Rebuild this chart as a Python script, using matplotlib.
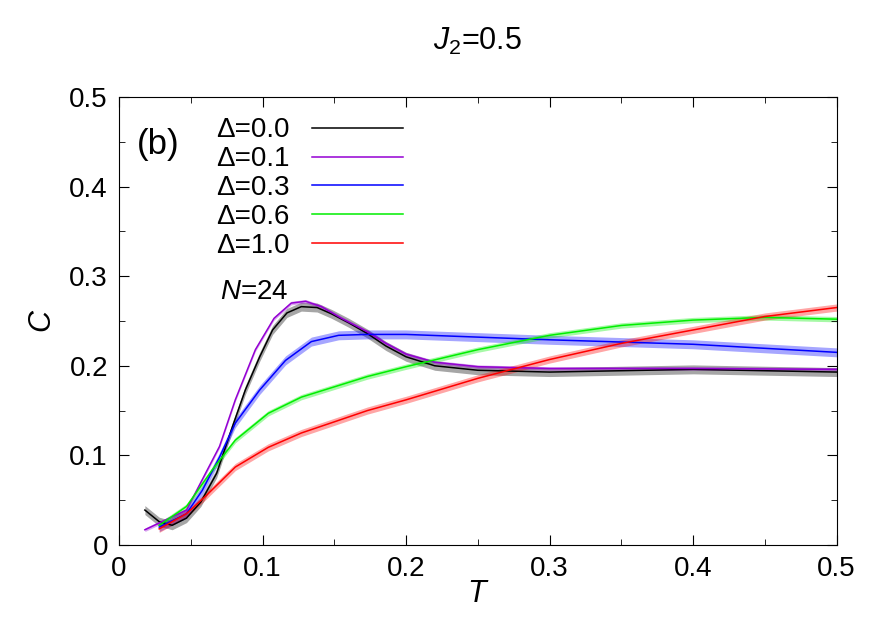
import numpy as np
import matplotlib.pyplot as plt

plt.rcParams['font.family'] = 'Liberation Sans'
plt.rcParams['mathtext.fontset'] = 'custom'
plt.rcParams['mathtext.it'] = 'Liberation Sans:italic'
plt.rcParams['mathtext.rm'] = 'Liberation Sans'

# data
t_d00 = [0.018, 0.028, 0.037, 0.047, 0.057, 0.068, 0.079, 0.088, 0.098, 0.107, 0.117, 0.127, 0.138, 0.148, 0.160, 0.173, 0.186, 0.2, 0.22, 0.25, 0.3, 0.4, 0.5]
c_d00 = [0.039, 0.026, 0.022, 0.030, 0.048, 0.080, 0.132, 0.173, 0.210, 0.240, 0.259, 0.266, 0.265, 0.258, 0.248, 0.236, 0.222, 0.210, 0.200, 0.195, 0.193, 0.196, 0.193]
t_d01 = [0.018, 0.047, 0.058, 0.070, 0.081, 0.095, 0.108, 0.120, 0.130, 0.141, 0.155, 0.173, 0.186, 0.2, 0.22, 0.25, 0.3, 0.4, 0.5]
c_d01 = [0.017, 0.039, 0.073, 0.110, 0.162, 0.218, 0.253, 0.270, 0.272, 0.266, 0.253, 0.238, 0.225, 0.213, 0.204, 0.199, 0.197, 0.197, 0.196]
t_d03 = [0.028, 0.047, 0.058, 0.070, 0.081, 0.098, 0.116, 0.134, 0.153, 0.173, 0.2, 0.3, 0.4, 0.5]
c_d03 = [0.020, 0.035, 0.061, 0.098, 0.136, 0.173, 0.206, 0.227, 0.234, 0.235, 0.235, 0.229, 0.224, 0.215]
t_d06 = [0.028, 0.047, 0.065, 0.081, 0.104, 0.127, 0.151, 0.173, 0.2, 0.25, 0.3, 0.35, 0.4, 0.45, 0.5]
c_d06 = [0.022, 0.043, 0.084, 0.117, 0.147, 0.165, 0.177, 0.188, 0.199, 0.218, 0.234, 0.245, 0.251, 0.254, 0.252]
t_d10 = [0.028, 0.047, 0.060, 0.081, 0.104, 0.127, 0.151, 0.173, 0.2, 0.25, 0.3, 0.35, 0.4, 0.45, 0.5]
c_d10 = [0.018, 0.035, 0.054, 0.087, 0.109, 0.125, 0.138, 0.150, 0.162, 0.186, 0.207, 0.225, 0.240, 0.255, 0.265]

labels = ['Δ=0.0', 'Δ=0.1', 'Δ=0.3', 'Δ=0.6', 'Δ=1.0']
colors = ['black', '#9400d3', '#0000ff', '#00ee00', '#ff0000']
series = [(t_d00, c_d00), (t_d01, c_d01), (t_d03, c_d03), (t_d06, c_d06), (t_d10, c_d10)]
err = [0.005, 0.002, 0.005, 0.003, 0.004]

fig = plt.figure(figsize=(8.91, 6.24), dpi=100)
ax = fig.add_axes([0.1336, 0.1266, 0.8054, 0.718])

for (t, c), col, lab, e in zip(series, colors, labels, err):
    t = np.array(t)
    c = np.array(c)
    ax.fill_between(t, c - e, c + e, color=col, alpha=0.35, lw=0)
    ax.plot(t, c, color=col, lw=1.1, label=lab)

ax.set_xlim(0, 0.5)
ax.set_ylim(0, 0.5)
ax.set_xticks([0, 0.1, 0.2, 0.3, 0.4, 0.5])
ax.set_xticklabels(['0', '0.1', '0.2', '0.3', '0.4', '0.5'])
ax.set_yticks([0, 0.1, 0.2, 0.3, 0.4, 0.5])
ax.set_yticklabels(['0', '0.1', '0.2', '0.3', '0.4', '0.5'])
ax.xaxis.set_minor_locator(plt.MultipleLocator(0.05))
ax.yaxis.set_minor_locator(plt.MultipleLocator(0.05))
ax.tick_params(which='both', direction='in', top=True, right=True, labelsize=20, pad=8)
ax.tick_params(which='major', length=7)
ax.tick_params(which='minor', length=4)
ax.set_xlabel('$\\it{T}$', fontsize=22, labelpad=-2)
ax.set_ylabel('$\\it{C}$', fontsize=22, labelpad=8)

leg = ax.legend(loc='upper left', bbox_to_anchor=(0.1, 1.01), frameon=False, fontsize=20,
                markerfirst=False, handlelength=3.3, labelspacing=0.1, handletextpad=0.8)
ax.text(0.025, 0.93, '(b)', transform=ax.transAxes, fontsize=25, va='top')
ax.text(0.14, 0.535, '$\\it{N}$=24', transform=ax.transAxes, fontsize=20, va='bottom')
fig.text(0.536, 0.92, '$\\it{J}_2$=0.5', fontsize=22, ha='center')

fig.savefig('out.png')
